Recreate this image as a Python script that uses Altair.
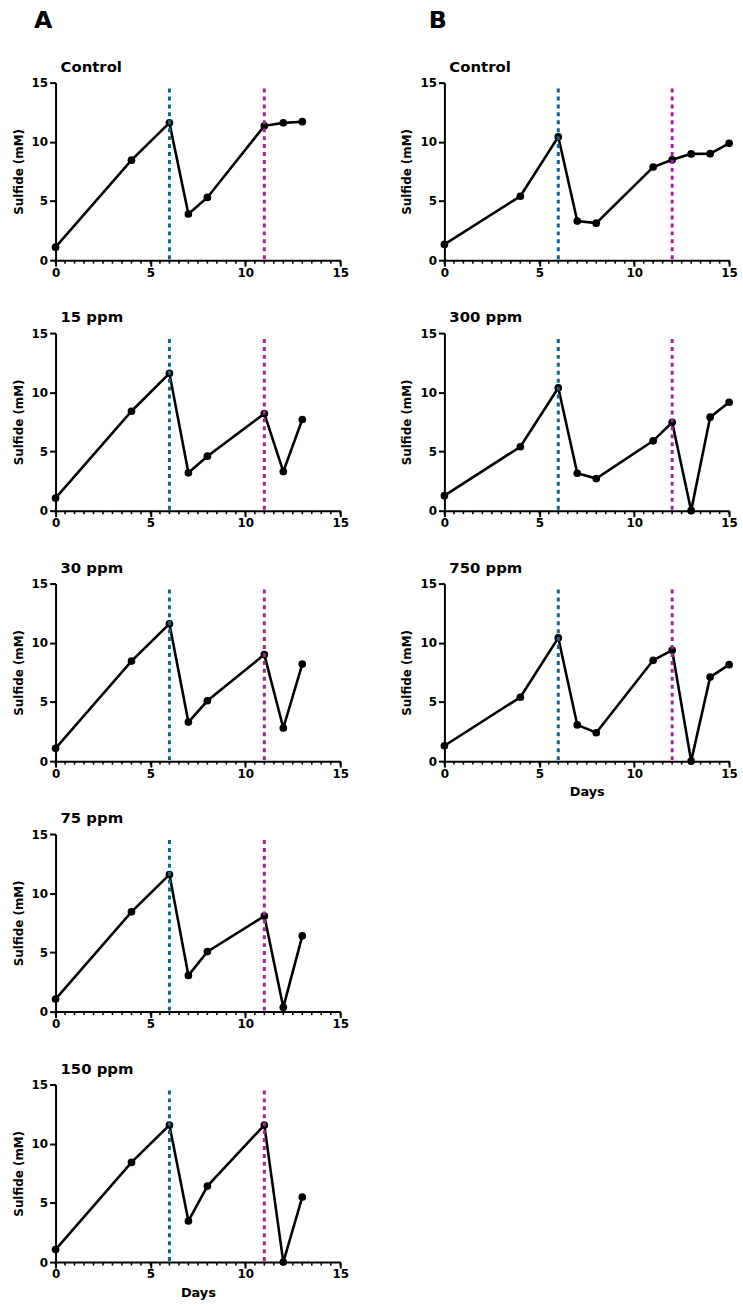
import altair as alt
import pandas as pd

# Sampling days for each experiment
days_a = [0, 4, 6, 7, 8, 11, 12, 13]
days_b = [0, 4, 6, 7, 8, 11, 12, 13, 14, 15]

# Sulfide concentration (mM), experiment A
a_control = [1.1, 8.45, 11.6, 3.9, 5.3, 11.35, 11.6, 11.7]
a_15 = [1.06, 8.4, 11.6, 3.2, 4.6, 8.2, 3.3, 7.7]
a_30 = [1.08, 8.45, 11.6, 3.3, 5.1, 9.0, 2.8, 8.2]
a_75 = [1.06, 8.43, 11.58, 3.06, 5.07, 8.07, 0.36, 6.4]
a_150 = [1.06, 8.42, 11.58, 3.47, 6.42, 11.58, 0.0, 5.5]

# Sulfide concentration (mM), experiment B
b_control = [1.33, 5.4, 10.42, 3.3, 3.13, 7.87, 8.48, 8.98, 9.0, 9.87]
b_300 = [1.27, 5.4, 10.38, 3.16, 2.71, 5.9, 7.47, 0.0, 7.9, 9.16]
b_750 = [1.3, 5.4, 10.42, 3.06, 2.4, 8.52, 9.37, 0.0, 7.1, 8.15]

# Days marked with dotted vertical lines
events_a = [6, 11]
events_b = [6, 12]
event_top = 14.5

# Axis tick positions
x_minor_ticks = [i * 0.5 for i in range(31)]
x_major_ticks = [0, 5, 10, 15]
y_ticks = [0, 5, 10, 15]

FONT = "DejaVu Sans"
BLUE = "#1a6189"
MAGENTA = "#a32493"
PANEL_W = 287
PANEL_H = 179


def panel(name, days, values, events, show_days):
    df = pd.DataFrame({"day": days, "sulfide": values})
    ev = pd.DataFrame({
        "day": events,
        "top": [event_top] * len(events),
        "base": [0] * len(events),
        "kind": ["first", "second"],
    })
    minor = pd.DataFrame({"day": x_minor_ticks})

    xs = alt.Scale(domain=[0, 15], nice=False)
    ys = alt.Scale(domain=[0, 15], nice=False)
    x_axis = alt.Axis(
        values=x_major_ticks,
        tickSize=6,
        labelFlush=False,
        labelOverlap=False,
        labelPadding=1,
        title="Days" if show_days else None,
        titlePadding=7,
        titleFontSize=13,
    )
    y_axis = alt.Axis(values=y_ticks, tickSize=6, labelPadding=2,
                      title="Sulfide (mM)", titlePadding=6)
    x_enc = alt.X("day:Q", scale=xs, axis=x_axis)
    y_enc = alt.Y("sulfide:Q", scale=ys, axis=y_axis)

    line = alt.Chart(df).mark_line(
        color="black", strokeWidth=2.6,
        point=alt.OverlayMarkDef(filled=True, color="black", size=60, opacity=1),
    ).encode(x=x_enc, y=y_enc)

    # half-day minor ticks below the x axis
    minor_ticks = alt.Chart(minor).mark_rule(color="black", strokeWidth=1.6).encode(
        x=x_enc,
        y=alt.value(PANEL_H),
        y2=alt.value(PANEL_H + 3.5),
    )

    rules = alt.Chart(ev).mark_rule(strokeWidth=3, strokeDash=[4, 4]).encode(
        x=x_enc,
        y=alt.Y("top:Q", scale=ys, axis=y_axis),
        y2="base:Q",
        color=alt.Color("kind:N", scale=alt.Scale(domain=["first", "second"],
                                                  range=[BLUE, MAGENTA]), legend=None),
    )
    return alt.layer(minor_ticks, line, rules).properties(
        width=PANEL_W,
        height=PANEL_H,
        title=alt.Title(name, anchor="start", frame="group", dx=5, offset=2,
                        fontSize=15, font=FONT, fontWeight="bold", color="black"),
    )


def column(label, dx, panels):
    return alt.vconcat(
        *panels,
        spacing=32.5,
        title=alt.Title(label, anchor="start", frame="bounds", dx=dx, offset=27,
                        fontSize=24, font=FONT, fontWeight="bold", color="black"),
    )


col_a = column("A", 22, [
    panel("Control", days_a, a_control, events_a, False),
    panel("15 ppm", days_a, a_15, events_a, False),
    panel("30 ppm", days_a, a_30, events_a, False),
    panel("75 ppm", days_a, a_75, events_a, False),
    panel("150 ppm", days_a, a_150, events_a, True),
])

col_b = column("B", 28, [
    panel("Control", days_b, b_control, events_b, False),
    panel("300 ppm", days_b, b_300, events_b, False),
    panel("750 ppm", days_b, b_750, events_b, True),
])

chart = alt.hconcat(col_a, col_b, spacing=52).properties(
    padding={"left": 12, "top": 4, "right": 5, "bottom": 5},
    background="white",
).configure_view(stroke=None).configure_axis(
    grid=False,
    domainColor="black",
    domainWidth=2,
    tickColor="black",
    tickWidth=2,
    labelFont=FONT,
    labelFontSize=12,
    labelFontWeight="bold",
    labelColor="black",
    titleFont=FONT,
    titleFontSize=12,
    titleFontWeight="bold",
    titleColor="black",
)

chart.save("out.html", embed_options={"renderer": "svg", "actions": False})
